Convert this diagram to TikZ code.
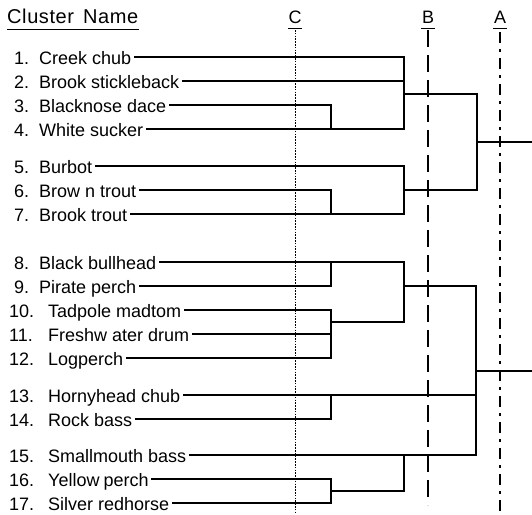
\documentclass[tikz,border=0pt]{standalone}
\usepackage{fontspec}
\setmainfont{Liberation Sans}
\newfontfamily\titlefont[LetterSpace=3]{Liberation Sans}
\tikzset{
  fishnum/.style={anchor=west, inner sep=0pt, text height=14pt, text depth=0pt, font=\fontsize{18pt}{20pt}\selectfont},
  fishname/.style={anchor=west, inner xsep=3pt, inner ysep=0pt, text height=14pt, text depth=0pt, font=\fontsize{18pt}{20pt}\selectfont},
  lvllabel/.style={anchor=base, inner sep=0pt, font=\fontsize{18pt}{20pt}\selectfont},
  treeline/.style={line width=1.1pt, line cap=rect},
  linec/.style={line width=0.9pt, dash pattern=on 1.5pt off 1.3pt},
  lineb/.style={line width=1.2pt, dash pattern=on 17pt off 8pt},
  linea/.style={line width=1.2pt, dash pattern=on 11pt off 6pt on 3pt off 6pt},
}
\begin{document}
\begin{tikzpicture}[x=1pt,y=-1pt]
\useasboundingbox (0,0) rectangle (532,514);
% title
\node[anchor=base west, inner sep=0pt, font=\titlefont\fontsize{20pt}{22pt}\selectfont] (title) at (7,23) {Cluster\hspace{9pt}Name};
\draw[line width=1pt] (title.base west) ++(0,6) coordinate (tu1) -- (tu1 -| title.base east);
% level labels
\node[lvllabel] (lc) at (295,23) {C};
\node[lvllabel] (lb) at (428,23) {B};
\node[lvllabel] (la) at (500,23) {A};
\foreach \n in {lc,lb,la}{\draw[line width=0.9pt] ([xshift=-7pt,yshift=-5pt]\n.base) -- ([xshift=7pt,yshift=-5pt]\n.base);}
% cut lines
\coordinate (c1) at (295,30); \coordinate (c2) at (295,514);
\coordinate (b1) at (428,30); \coordinate (b2) at (428,505);
\coordinate (a1) at (500,32); \coordinate (a2) at (500,514);
\draw[linec] (c1) -- (c2);
\draw[lineb] (b1) -- (b2);
\draw[linea] (a1) -- (a2);
% labels
\foreach \i/\y/\t in {1/57/Creek chub,2/81/Brook stickleback,3/105/Blacknose dace,4/129/White sucker,5/166/Burbot,6/190/Brow n trout,7/214/Brook trout,8/262/Black bullhead,9/286/Pirate perch}{
  \node[fishnum] (m\i) at (14,\y) {\i.};
  \node[fishname] (n\i) at (36,\y) {\t};
}
\foreach \i/\y/\t in {10/310/Tadpole madtom,11/334/Freshw ater drum,12/358/Logperch,13/395/Hornyhead chub,14/419/Rock bass,15/455/Smallmouth bass,16/479/Yellow\hspace{4pt}perch,17/503/Silver redhorse}{
  \node[fishnum] (m\i) at (9,\y) {\i.};
  \node[fishname] (n\i) at (45,\y) {\t};
}
% top group
\draw[treeline] (n1.east) -- (404,57) -- (404,129) -- (331,129);
\draw[treeline] (n2.east) -- (404,81);
\draw[treeline] (n3.east) -- (331,105) -- (331,129);
\draw[treeline] (n4.east) -- (331,129);
\draw[treeline] (404,94) -- (477,94) -- (477,190) -- (404,190);
\draw[treeline] (n5.east) -- (404,166) -- (404,214) -- (331,214);
\draw[treeline] (n6.east) -- (331,190) -- (331,214);
\draw[treeline] (n7.east) -- (331,214);
\coordinate (rootA) at (532,142);
\draw[treeline] (477,142) -- (rootA);
% bottom group
\draw[treeline] (n8.east) -- (404,262) -- (404,322) -- (331,322);
\draw[treeline] (n9.east) -- (331,286) -- (331,262);
\draw[treeline] (n10.east) -- (331,310) -- (331,358);
\draw[treeline] (n11.east) -- (331,334);
\draw[treeline] (n12.east) -- (331,358);
\draw[treeline] (404,286) -- (476,286) -- (476,455);
\draw[treeline] (n13.east) -- (476,395);
\draw[treeline] (n14.east) -- (331,419) -- (331,395);
\draw[treeline] (n15.east) -- (476,455);
\draw[treeline] (404,455) -- (404,491) -- (331,491);
\draw[treeline] (n16.east) -- (331,479) -- (331,503);
\draw[treeline] (n17.east) -- (331,503);
\coordinate (rootB) at (532,371);
\draw[treeline] (476,371) -- (rootB);
\end{tikzpicture}
\end{document}
